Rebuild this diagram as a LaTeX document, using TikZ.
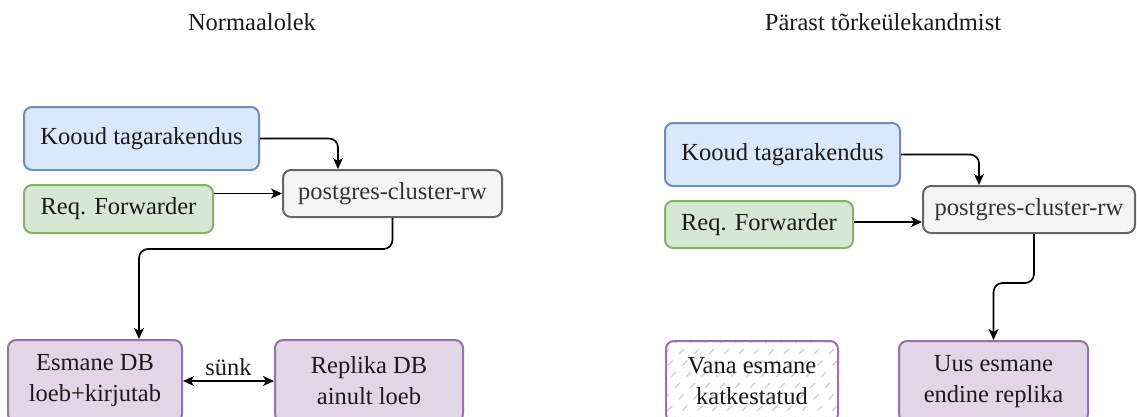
\documentclass[tikz,border=0pt]{standalone}
\usepackage{fontspec}
\setmainfont{Liberation Serif}
\newfontfamily\diafont{Liberation Serif}
\usetikzlibrary{arrows.meta}
\definecolor{blueF}{HTML}{DAE8FC}\definecolor{blueD}{HTML}{6C8EBF}
\definecolor{greenF}{HTML}{D5E8D4}\definecolor{greenD}{HTML}{82B366}
\definecolor{grayF}{HTML}{F5F5F5}\definecolor{grayD}{HTML}{666666}
\definecolor{purpF}{HTML}{E1D5E7}\definecolor{purpD}{HTML}{9673A6}
\definecolor{hatchC}{HTML}{D8C6E2}
\definecolor{txt}{HTML}{1A1A1A}
\tikzset{
  box/.style={rectangle, rounded corners=8pt, line width=2pt, align=center,
    inner sep=0pt, text=txt, font=\diafont\fontsize{24.5}{31}\selectfont},
  app/.style={box, fill=blueF, draw=blueD},
  fwd/.style={box, fill=greenF, draw=greenD},
  svc/.style={box, fill=grayF, draw=grayD, text=black!80},
  db/.style={box, fill=purpF, draw=purpD},
  deaddb/.style={box, fill=white, draw=purpD,
    path picture={
      \foreach \i in {-100,-85,...,190}
        \draw[hatchC, line width=1.2pt, dash pattern=on 7pt off 9pt]
          ([xshift=\i pt]path picture bounding box.south west) -- ++(100,-100);
    }},
  title/.style={font=\diafont\fontsize{24.5}{30}\selectfont, text=txt},
  link/.style={line width=1.7pt, rounded corners=9pt,
    -{Stealth[length=11pt,width=10pt,inset=3pt]}},
  sync/.style={line width=1.7pt,
    {Stealth[length=11pt,width=10pt,inset=3pt]}-{Stealth[length=11pt,width=10pt,inset=3pt]}}
}
\begin{document}
\begin{tikzpicture}[x=1pt,y=-1pt]
\useasboundingbox (0,0) rectangle (1137,416);

% panel titles
\node[title] (t1) at (252,22) {Normaalolek};
\node[title] (t2) at (883,22) {Pärast tõrkeülekandmist};

% normal state
\node[app, minimum width=235pt, minimum height=63pt] (kA) at (141.5,138.5) {Kooud tagarakendus};
\node[fwd, minimum width=189pt, minimum height=48pt] (rA) at (118.5,209) {Req. Forwarder};
\node[svc, minimum width=219pt, minimum height=47pt] (pA) at (392.5,193.5) {postgres-cluster-rw};
\node[db, minimum width=174pt, minimum height=82pt] (eA) at (95,381) {Esmane DB\\loeb+kirjutab};
\node[db, minimum width=188pt, minimum height=82pt] (sA) at (369,381) {Replika DB\\ainult loeb};

\draw[link] (kA.east) -| ([xshift=-54.5pt]pA.north);
\draw[link] (rA.east |- pA.west) -- (pA.west);
\draw[link] (pA.south) -- ++(0,31) -| ([xshift=44pt]eA.north);
\draw[sync] (eA.east) -- node[above=1pt, title] {sünk} (sA.west);

% after failover
\node[app, minimum width=235pt, minimum height=63pt] (kB) at (782.5,154.5) {Kooud tagarakendus};
\node[fwd, minimum width=188pt, minimum height=47pt] (rB) at (759,224.5) {Req. Forwarder};
\node[svc, minimum width=212pt, minimum height=47pt] (pB) at (1029,209.5) {postgres-cluster-rw};
\node[deaddb, minimum width=172pt, minimum height=81pt] (vB) at (752,381.5) {Vana esmane\\katkestatud};
\node[db, minimum width=189pt, minimum height=81pt] (uB) at (993.5,381.5) {Uus esmane\\endine replika};

\draw[link] (kB.east) -| ([xshift=-50pt]pB.north);
\draw[link] ([yshift=2.5pt]rB.east) -- ([yshift=2.5pt]rB.east -| pB.west);
\draw[link] ([xshift=5pt]pB.south) -- ++(0,49) -| (uB.north);
\end{tikzpicture}
\end{document}
